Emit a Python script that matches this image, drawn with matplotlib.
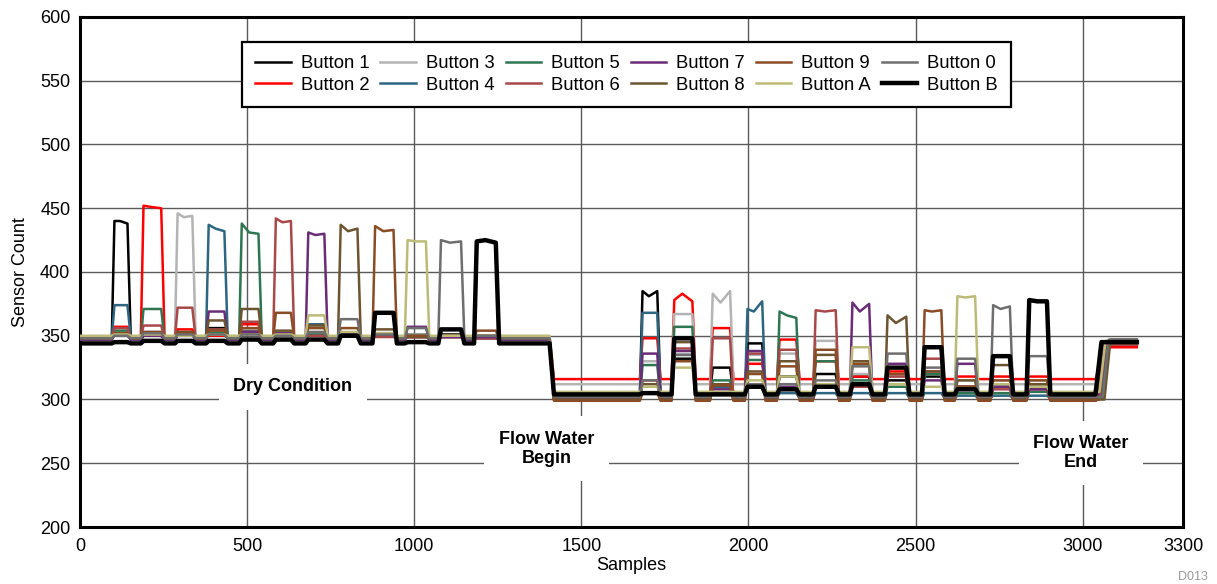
import matplotlib
matplotlib.use("Agg")
import matplotlib.pyplot as plt

plt.rcParams['font.family'] = ['Liberation Sans', 'DejaVu Sans']

# ---------------- data ----------------
buttons = ["Button 1", "Button 2", "Button 3", "Button 4", "Button 5", "Button 6",
           "Button 7", "Button 8", "Button 9", "Button A", "Button 0", "Button B"]
colors = ["#000000", "#FF0000", "#B4B4B4", "#2D6680", "#2E7652", "#A84848",
          "#6A2C76", "#6C5430", "#8A4C24", "#BDBB78", "#6E6E6E", "#000000"]
widths = [1.8] * 11 + [3.2]

# dry condition: press windows (samples)
dry_start = [95, 182, 284, 377, 476, 578, 675, 772, 875, 972, 1072, 1179]
dry_end = [144, 245, 338, 434, 536, 633, 733, 832, 940, 1037, 1142, 1246]
dry_base = [347, 349, 349, 348, 347, 348, 347, 349, 348, 350, 348, 344]
# rows: pressed button, cols: responding button (diagonal = own level mid-press)
dry_level = [
    [440, 357, 352, 374, 354, 356, 350, 351, 352, 351, 350, 345],
    [350, 451, 353, 352, 371, 358, 350, 352, 353, 351, 352, 346],
    [351, 355, 443, 351, 352, 372, 351, 353, 352, 350, 351, 346],
    [356, 350, 352, 434, 352, 355, 369, 362, 354, 351, 351, 346],
    [354, 359, 355, 352, 431, 361, 353, 371, 356, 351, 351, 347],
    [352, 350, 352, 351, 351, 439, 352, 354, 368, 351, 350, 347],
    [351, 350, 352, 359, 351, 350, 429, 358, 356, 366, 353, 347],
    [351, 350, 351, 352, 352, 350, 351, 432, 356, 353, 363, 350],
    [352, 350, 351, 350, 351, 349, 351, 355, 432, 352, 351, 368],
    [351, 349, 351, 349, 350, 349, 357, 349, 350, 424, 356, 345],
    [351, 349, 350, 349, 350, 349, 349, 350, 350, 350, 423, 355],
    [350, 348, 350, 348, 349, 348, 349, 350, 354, 350, 350, 425],
]
dry_peak_first = [440, 452, 446, 437, 438, 442, 431, 437, 436, 425, 425, 424]
dry_peak_last = [438, 450, 444, 432, 430, 440, 430, 434, 433, 424, 424, 423]

# flow water: press windows
wet_start = [1675, 1770, 1885, 1989, 2085, 2193, 2303, 2408, 2519, 2617, 2724, 2832]
wet_end = [1729, 1834, 1947, 2043, 2145, 2263, 2363, 2474, 2579, 2680, 2784, 2895]
wet_base = [304, 316, 312, 301, 301, 300, 300, 300, 299, 306, 302, 304]
wet_level = [
    [381, 348, 330, 368, 327, 315, 336, 312, 305, 310, 315, 305],
    [332, 383, 367, 335, 357, 340, 338, 345, 330, 325, 335, 348],
    [325, 356, 376, 310, 315, 348, 308, 312, 311, 306, 305, 304],
    [344, 328, 335, 369, 331, 336, 338, 322, 320, 315, 312, 310],
    [318, 347, 336, 305, 366, 339, 310, 330, 326, 318, 312, 308],
    [320, 330, 346, 305, 330, 369, 312, 335, 339, 312, 315, 310],
    [318, 318, 320, 305, 315, 310, 369, 330, 328, 341, 326, 312],
    [315, 322, 318, 305, 310, 318, 328, 360, 320, 312, 336, 325],
    [318, 322, 320, 305, 320, 332, 315, 322, 369, 310, 325, 341],
    [310, 318, 315, 303, 305, 310, 328, 315, 310, 380, 332, 308],
    [310, 318, 315, 303, 305, 308, 310, 327, 315, 312, 371, 334],
    [310, 318, 315, 303, 306, 308, 308, 312, 315, 310, 334, 377],
]
wet_peak_first = [385, 378, 383, 371, 369, 370, 376, 366, 370, 381, 374, 378]
wet_peak_last = [385, 377, 385, 377, 364, 370, 375, 365, 370, 381, 373, 377]

# phase changes
flow_begin = [1405, 1418]
end_rise_start = [3045, 3040, 3050, 3055, 3060, 3050, 3045, 3065, 3040, 3050, 3060, 3038]
end_level = [345, 341, 344, 344, 343, 343, 345, 347, 345, 346, 347, 345]
last_sample = 3162

xticks = [0, 500, 1000, 1500, 2000, 2500, 3000, 3300]
yticks = [200, 250, 300, 350, 400, 450, 500, 550, 600]


def knots(j):
    xs, ys = [0], [dry_base[j]]
    for starts, ends, base, level, pf, pl in (
            (dry_start, dry_end, dry_base, dry_level, dry_peak_first, dry_peak_last),
            (wet_start, wet_end, wet_base, wet_level, wet_peak_first, wet_peak_last)):
        for i in range(len(starts)):
            s, e = starts[i], ends[i]
            if i == j:
                a, b, c = pf[j], level[i][j], pl[j]
            else:
                a = b = c = level[i][j]
            xs += [s, s + 8, (s + e) / 2, e - 2, e + 8]
            ys += [base[j], a, b, c, base[j]]
        if starts is dry_start:
            xs += [flow_begin[0], flow_begin[1]]
            ys += [dry_base[j], wet_base[j]]
    xs += [end_rise_start[j], end_rise_start[j] + 18, last_sample]
    ys += [wet_base[j], end_level[j], end_level[j]]
    return xs, ys


fig = plt.figure(figsize=(12.17, 5.84), dpi=100)
ax = fig.add_axes([80 / 1217, 57 / 584, 1103 / 1217, 510 / 584])

handles = []
for j, name in enumerate(buttons):
    xs, ys = knots(j)
    h, = ax.plot(xs, ys, color=colors[j], lw=widths[j], label=name,
                 solid_joinstyle='round', zorder=3 + (j == 11))
    handles.append(h)

ax.set_xlim(0, 3300)
ax.set_ylim(200, 600)
ax.set_xticks(xticks)
ax.set_yticks(yticks)
ax.tick_params(length=0, labelsize=13)
ax.tick_params(axis='y', pad=7)
ax.tick_params(axis='x', pad=8)
ax.grid(True, color='#5a5a5a', lw=1.0, zorder=1)
for sp in ax.spines.values():
    sp.set_linewidth(2.2)
    sp.set_color('black')
ax.set_xlabel("Samples", fontsize=13, labelpad=1)
ax.set_ylabel("Sensor Count", fontsize=13, labelpad=8)

box = dict(facecolor='white', edgecolor='none', boxstyle='square,pad=0.8')
ax.text(636, 310, "Dry Condition", ha='center', va='center', fontsize=13,
        fontweight='bold', bbox=box, zorder=2)
ax.text(1396, 261.5, "Flow Water\nBegin", ha='center', va='center', fontsize=13,
        fontweight='bold', bbox=box, zorder=2, linespacing=1.15)
ax.text(2994, 258, "Flow Water\nEnd", ha='center', va='center', fontsize=13,
        fontweight='bold', bbox=box, zorder=2, linespacing=1.15)

leg = ax.legend(handles=handles, loc='upper center', bbox_to_anchor=(0.4955, 0.951),
                ncol=6, fontsize=13.3, frameon=True, fancybox=False, framealpha=1,
                edgecolor='black', handlelength=1.9, handletextpad=0.55,
                columnspacing=0.6, labelspacing=0.25, borderpad=0.72,
                borderaxespad=0)
leg.get_frame().set_linewidth(1.6)
leg.set_zorder(10)

fig.text(1178 / 1217, 1 / 584, "D013", fontsize=9, color='#9a9a9a', ha='left', va='bottom')

fig.savefig("out.png", dpi=100)
